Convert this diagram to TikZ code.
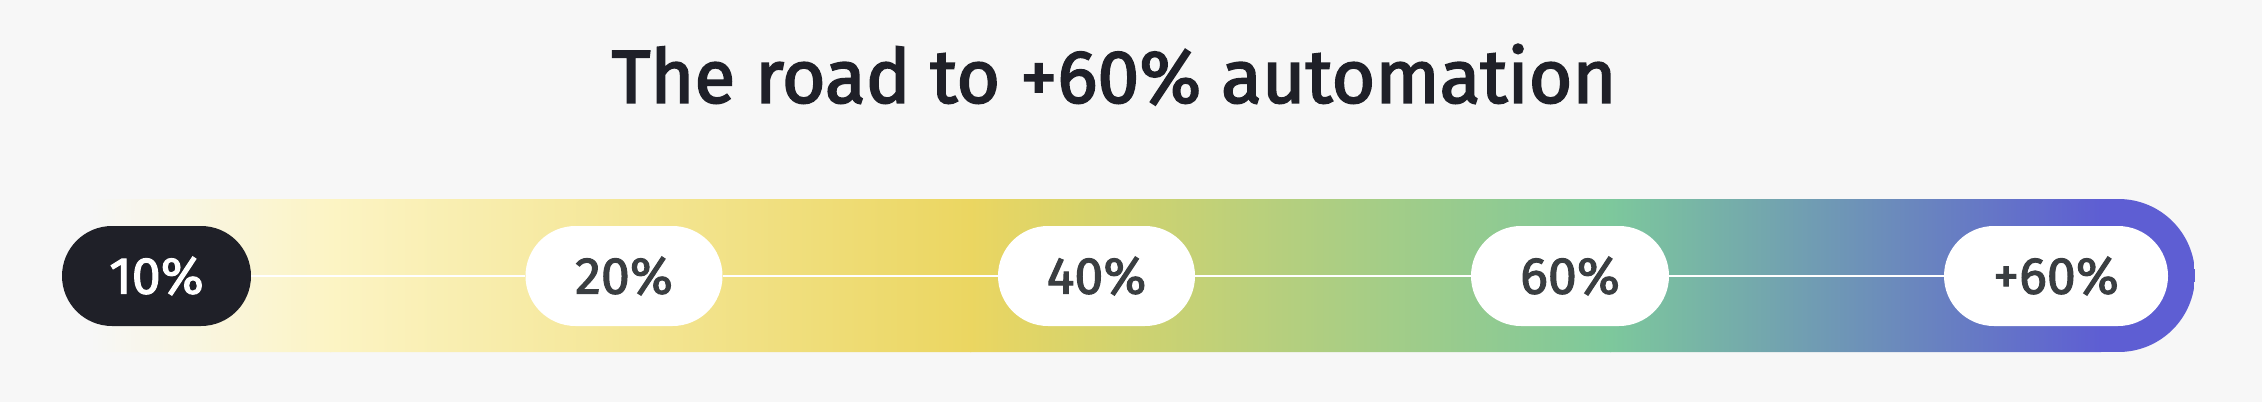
\documentclass[tikz,border=0pt]{standalone}
\usepackage{fontspec}
\setmainfont{Fira Sans}
\newfontfamily\titlefont{Fira Sans}[FakeBold=2.4]
\newfontfamily\pillfont{Fira Sans}[FakeBold=2]

\definecolor{bgc}{HTML}{F7F7F7}
\definecolor{ink}{HTML}{1F2028}
\definecolor{digit}{HTML}{3A3E41}
\definecolor{roadA}{HTML}{FCF4C4}
\definecolor{roadB}{HTML}{EBD661}
\definecolor{roadC}{HTML}{7DC89C}
\definecolor{roadD}{HTML}{5E5ED3}

\tikzset{
    pill/.style={rectangle, rounded corners=50pt, minimum height=100pt, inner sep=0pt,
        fill=white, text=digit, font=\pillfont\fontsize{52}{52}\selectfont},
    pilldark/.style={pill, fill=ink, text=white},
    roadline/.style={draw=white, line width=1.3pt}
}

\begin{document}
\begin{tikzpicture}[x=1pt, y=-1pt]
    \fill[bgc] (0, 0) rectangle (2262, 402);
    \useasboundingbox (0, 0) rectangle (2262, 402);

    \node[font=\titlefont\fontsize{75}{90}\selectfont, text=ink, anchor=base] (title) at (1114, 102.7) {The road to +60\% automation};

    \begin{scope}
        \clip (90, 199) [rounded corners=76.5pt] -- (2195, 199) -- (2195, 352) [sharp corners] -- (90, 352) -- cycle;
        \foreach \xa/\ca/\xb/\cb in {90/bgc/330/roadA, 330/roadA/970/roadB, 970/roadB/1610/roadC, 1610/roadC/2100/roadD}
            \shade[left color=\ca, right color=\cb] (\xa, 199) rectangle (\xb + 1, 352);
        \fill[roadD] (2100, 199) rectangle (2195, 352);
    \end{scope}

    \node[pilldark, minimum width=189pt] (p10) at (156.5, 276) {10\%};
    \node[pill, minimum width=197pt] (p20) at (624, 276) {20\%};
    \node[pill, minimum width=197pt] (p40) at (1096.5, 276) {40\%};
    \node[pill, minimum width=198pt] (p60) at (1570, 276) {60\%};
    \node[pill, minimum width=224pt] (p60plus) at (2056, 276) {+60\%};

    \draw[roadline] (p10) -- (p20);
    \draw[roadline] (p20) -- (p40);
    \draw[roadline] (p40) -- (p60);
    \draw[roadline] (p60) -- (p60plus);

\end{tikzpicture}
\end{document}
